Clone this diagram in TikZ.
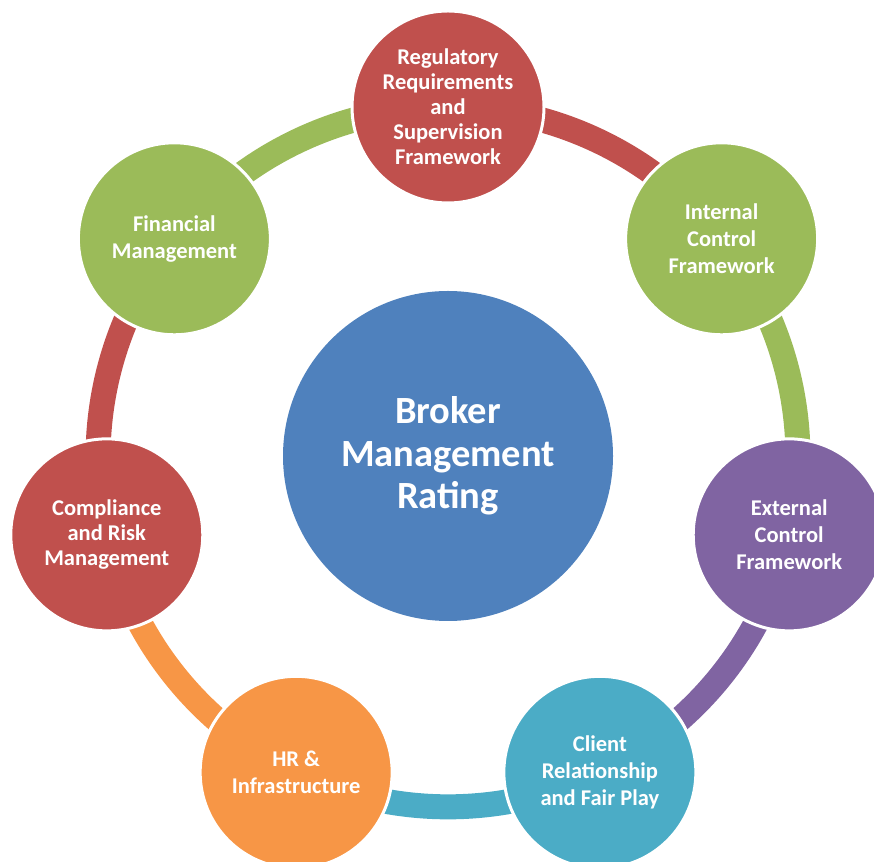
\documentclass[tikz,border=0pt]{standalone}
\usepackage{fontspec}
\setmainfont{Carlito}
\usetikzlibrary{backgrounds}
\definecolor{cred}{HTML}{C0504D}
\definecolor{cgreen}{HTML}{9BBB59}
\definecolor{cpurple}{HTML}{8064A2}
\definecolor{cteal}{HTML}{4BACC6}
\definecolor{corange}{HTML}{F79646}
\definecolor{cblue}{HTML}{4F81BD}
\tikzset{
  ball/.style={circle, draw=white, line width=3pt, minimum size=192pt, inner sep=0pt,
    align=center, text=white, font=\bfseries\fontsize{22.5}{27}\selectfont},
  hub/.style={circle, fill=cblue, minimum size=330pt, inner sep=0pt,
    align=center, text=white, font=\bfseries\fontsize{38.5}{42.5}\selectfont},
  band/.style={line width=25pt, line cap=butt},
  arcto/.style={bend left=25.71, looseness=0.896}
}
\begin{document}
\begin{tikzpicture}[x=1pt,y=1pt]
\useasboundingbox (0,0) rectangle (874,861);
\node[hub] (hub) at (448,405) {Broker\\Management\\Rating};
\node[ball, fill=cred, font=\bfseries\fontsize{22.5}{25}\selectfont] (reg) at ([shift={(448,404)}]90:350) {Regulatory\\Requirements\\and\\Supervision\\Framework};
\node[ball, fill=cgreen] (int) at ([shift={(448,404)}]38.571:350) {Internal\\Control\\Framework};
\node[ball, fill=cpurple] (ext) at ([shift={(448,404)}]-12.857:350) {External\\Control\\Framework};
\node[ball, fill=cteal] (cli) at ([shift={(448,404)}]-64.286:350) {Client\\Relationship\\and Fair Play};
\node[ball, fill=corange] (hr) at ([shift={(448,404)}]-115.714:350) {HR \&\\Infrastructure};
\node[ball, fill=cred, font=\bfseries\fontsize{22.5}{25}\selectfont] (comp) at ([shift={(448,404)}]-167.143:350) {Compliance\\and Risk\\Management};
\node[ball, fill=cgreen] (fin) at ([shift={(448,404)}]141.429:350) {Financial\\Management};
\begin{scope}[on background layer]
\draw[band, cred] (reg.center) to[arcto] (int.center);
\draw[band, cgreen] (int.center) to[arcto] (ext.center);
\draw[band, cpurple] (ext.center) to[arcto] (cli.center);
\draw[band, cteal] (cli.center) to[arcto] (hr.center);
\draw[band, corange] (hr.center) to[arcto] (comp.center);
\draw[band, cred] (comp.center) to[arcto] (fin.center);
\draw[band, cgreen] (fin.center) to[arcto] (reg.center);
\end{scope}
\end{tikzpicture}
\end{document}
